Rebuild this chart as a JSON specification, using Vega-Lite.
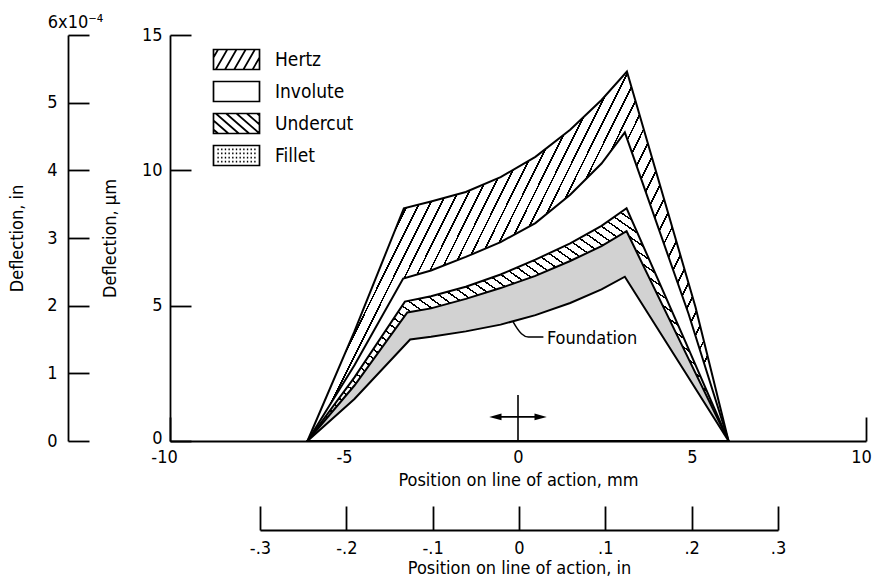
{
"$schema":"https://vega.github.io/schema/vega-lite/v6.json",
"width":696,"height":406,
"autosize":{"type":"none"},
"padding":{"left":170,"top":35,"right":9,"bottom":138},
"background":"white",
"config":{
 "view":{"stroke":null},
 "font":"Liberation Sans Narrow, DejaVu Sans Condensed, Arial Narrow, sans-serif",
 "axis":{"domainColor":"black","domainWidth":1.8,"tickColor":"black","tickWidth":1.8,"labelColor":"black","titleColor":"black","labelFontSize":18,"titleFontSize":18,"titleFontWeight":"normal","grid":false,"labelFlush":false,"labelOverlap":false,"labelFont":"Liberation Sans Narrow, DejaVu Sans Condensed, Arial Narrow, sans-serif","titleFont":"Liberation Sans Narrow, DejaVu Sans Condensed, Arial Narrow, sans-serif"},
 "legend":{"labelFont":"Liberation Sans Narrow, DejaVu Sans Condensed, Arial Narrow, sans-serif","labelFontSize":19,"labelColor":"black"}
},
"datasets":{
 "curves":[
  {"part":"Hertz","x":-6.05,"y":0},{"part":"Hertz","x":-4.7,"y":4.05},{"part":"Hertz","x":-3.28,"y":8.6},{"part":"Hertz","x":-2.5,"y":8.85},{"part":"Hertz","x":-1.5,"y":9.2},{"part":"Hertz","x":-0.5,"y":9.75},{"part":"Hertz","x":0.5,"y":10.5},{"part":"Hertz","x":1.5,"y":11.5},{"part":"Hertz","x":2.4,"y":12.6},{"part":"Hertz","x":3.13,"y":13.65},{"part":"Hertz","x":5.1,"y":4.95},{"part":"Hertz","x":6.05,"y":0},
  {"part":"Involute","x":-6.05,"y":0},{"part":"Involute","x":-4.7,"y":2.8},{"part":"Involute","x":-3.3,"y":6.0},{"part":"Involute","x":-2.5,"y":6.3},{"part":"Involute","x":-1.5,"y":6.8},{"part":"Involute","x":-0.5,"y":7.35},{"part":"Involute","x":0.5,"y":8.05},{"part":"Involute","x":1.5,"y":9.1},{"part":"Involute","x":2.4,"y":10.25},{"part":"Involute","x":3.07,"y":11.4},{"part":"Involute","x":4.9,"y":4.7},{"part":"Involute","x":6.05,"y":0},
  {"part":"Undercut","x":-6.05,"y":0},{"part":"Undercut","x":-4.7,"y":2.35},{"part":"Undercut","x":-3.25,"y":5.15},{"part":"Undercut","x":-2.5,"y":5.35},{"part":"Undercut","x":-1.5,"y":5.7},{"part":"Undercut","x":-0.5,"y":6.15},{"part":"Undercut","x":0.5,"y":6.7},{"part":"Undercut","x":1.5,"y":7.3},{"part":"Undercut","x":2.4,"y":7.95},{"part":"Undercut","x":3.12,"y":8.6},{"part":"Undercut","x":4.8,"y":3.7},{"part":"Undercut","x":6.05,"y":0},
  {"part":"Fillet","x":-6.05,"y":0},{"part":"Fillet","x":-4.7,"y":2.05},{"part":"Fillet","x":-3.18,"y":4.75},{"part":"Fillet","x":-2.5,"y":4.9},{"part":"Fillet","x":-1.5,"y":5.25},{"part":"Fillet","x":-0.5,"y":5.65},{"part":"Fillet","x":0.5,"y":6.1},{"part":"Fillet","x":1.5,"y":6.65},{"part":"Fillet","x":2.4,"y":7.2},{"part":"Fillet","x":3.12,"y":7.75},{"part":"Fillet","x":4.8,"y":3.3},{"part":"Fillet","x":6.05,"y":0},
  {"part":"Foundation","x":-6.05,"y":0},{"part":"Foundation","x":-4.7,"y":1.55},{"part":"Foundation","x":-3.1,"y":3.75},{"part":"Foundation","x":-2.5,"y":3.85},{"part":"Foundation","x":-1.5,"y":4.05},{"part":"Foundation","x":-0.5,"y":4.3},{"part":"Foundation","x":0.5,"y":4.65},{"part":"Foundation","x":1.5,"y":5.1},{"part":"Foundation","x":2.4,"y":5.6},{"part":"Foundation","x":3.07,"y":6.07},{"part":"Foundation","x":4.8,"y":2.55},{"part":"Foundation","x":6.05,"y":0}
 ],
 "legendItems":[{"item":"Hertz"},{"item":"Involute"},{"item":"Undercut"},{"item":"Fillet"}],
 "leader":[{"x":-0.14,"y":4.4},{"x":-0.02,"y":4.15},{"x":0.1,"y":3.96},{"x":0.3,"y":3.84},{"x":0.73,"y":3.84}],
 "labels":[{"x":0.83,"y":3.78,"text":"Foundation"}],
 "arrowLines":[{"x":0,"x2":0,"y":0,"y2":1.7},{"x":-0.72,"x2":0.72,"y":0.89,"y2":0.89}],
 "arrowLeft":[{"x":-0.65,"y":0.89}],
 "arrowRight":[{"x":0.65,"y":0.89}],
 "inchTicks":[{"xin":-0.3,"yin":0},{"xin":0.3,"yin":6}]
},
"resolve":{"scale":{"x":"independent","y":"independent"}},
"layer":[
 {
  "encoding":{
   "x":{"field":"x","type":"quantitative","scale":{"domain":[-10,10],"nice":false,"zero":false},
        "axis":{"values":[-10,-5,0,5,10],"tickSize":-24,"labelPadding":31,"title":"Position on line of action, mm","titlePadding":5,
                "labelOffset":{"condition":[{"test":"datum.value == 10","value":-5},{"test":"datum.value == -10","value":-6}],"value":0},
                "labelExpr":"datum.value < 0 ? '-' + abs(datum.value) : '' + datum.value"}},
   "y":{"field":"y","type":"quantitative","scale":{"domain":[0,15],"nice":false},
        "axis":{"values":[0,5,10,15],"tickSize":-21,"labelPadding":29,"title":"Deflection, µm","titlePadding":22,
                "labelOffset":{"condition":{"test":"datum.value == 0","value":-3},"value":0}}}
  },
  "layer":[
   {"data":{"name":"legendItems"},
    "mark":{"type":"point","filled":false,"color":"black","strokeWidth":1.7,"opacity":1,"size":529},
    "encoding":{"x":{"datum":0,"type":"quantitative"},"y":{"datum":1,"type":"quantitative"},
     "shape":{"field":"item","type":"nominal",
      "scale":{"domain":["Hertz","Involute","Undercut","Fillet"],
       "range":[
        "M-2,-0.87H2V0.87H-2Z M-2,-0.174L-1.6,-0.87 M-1.8,0.87L-0.8,-0.87 M-1,0.87L0,-0.87 M-0.2,0.87L0.8,-0.87 M0.6,0.87L1.6,-0.87 M1.4,0.87L2,-0.174",
        "M-2,-0.87H2V0.87H-2Z",
        "M-2,-0.87H2V0.87H-2Z M-2,0.522L-1.6,0.87 M-2,-0.26L-0.7,0.87 M-1.8,-0.87L0.2,0.87 M-0.9,-0.87L1.1,0.87 M0,-0.87L2,0.87 M0.9,-0.87L2,0.087 M1.8,-0.87L2,-0.696",
        "M-2,-0.87H2V0.87H-2Z M-1.66,-0.54h0.12M-1.34,-0.54h0.12M-1.02,-0.54h0.12M-0.7,-0.54h0.12M-0.38,-0.54h0.12M-0.06,-0.54h0.12M0.26,-0.54h0.12M0.58,-0.54h0.12M0.9,-0.54h0.12M1.22,-0.54h0.12M1.54,-0.54h0.12 M-1.66,-0.18h0.12M-1.34,-0.18h0.12M-1.02,-0.18h0.12M-0.7,-0.18h0.12M-0.38,-0.18h0.12M-0.06,-0.18h0.12M0.26,-0.18h0.12M0.58,-0.18h0.12M0.9,-0.18h0.12M1.22,-0.18h0.12M1.54,-0.18h0.12 M-1.66,0.18h0.12M-1.34,0.18h0.12M-1.02,0.18h0.12M-0.7,0.18h0.12M-0.38,0.18h0.12M-0.06,0.18h0.12M0.26,0.18h0.12M0.58,0.18h0.12M0.9,0.18h0.12M1.22,0.18h0.12M1.54,0.18h0.12 M-1.66,0.54h0.12M-1.34,0.54h0.12M-1.02,0.54h0.12M-0.7,0.54h0.12M-0.38,0.54h0.12M-0.06,0.54h0.12M0.26,0.54h0.12M0.58,0.54h0.12M0.9,0.54h0.12M1.22,0.54h0.12M1.54,0.54h0.12"
       ]},
      "legend":{"title":null,"orient":"none","legendX":54,"legendY":12,"symbolSize":529,"symbolStrokeWidth":1.7,"symbolStrokeColor":"black","labelOffset":26,"rowPadding":5,"padding":0,"labelFontSize":19}}}},
   {"data":{"name":"curves"},"transform":[{"filter":"datum.part === 'Hertz'"}],
    "mark":{"type":"area","stroke":"black","strokeWidth":2,"opacity":1,
     "fill":{"gradient":"linear","x1":0,"y1":0,"x2":1.1,"y2":0.48,"stops":[
      {"offset":0,"color":"#fff"},{"offset":0.26,"color":"#fff"},
      {"offset":0.26,"color":"#000"},{"offset":0.2635,"color":"#000"},{"offset":0.2635,"color":"#fff"},{"offset":0.28,"color":"#fff"},
      {"offset":0.28,"color":"#000"},{"offset":0.2835,"color":"#000"},{"offset":0.2835,"color":"#fff"},{"offset":0.30,"color":"#fff"},
      {"offset":0.30,"color":"#000"},{"offset":0.3035,"color":"#000"},{"offset":0.3035,"color":"#fff"},{"offset":0.32,"color":"#fff"},
      {"offset":0.32,"color":"#000"},{"offset":0.3235,"color":"#000"},{"offset":0.3235,"color":"#fff"},{"offset":0.34,"color":"#fff"},
      {"offset":0.34,"color":"#000"},{"offset":0.3435,"color":"#000"},{"offset":0.3435,"color":"#fff"},{"offset":0.36,"color":"#fff"},
      {"offset":0.36,"color":"#000"},{"offset":0.3635,"color":"#000"},{"offset":0.3635,"color":"#fff"},{"offset":0.38,"color":"#fff"},
      {"offset":0.38,"color":"#000"},{"offset":0.3835,"color":"#000"},{"offset":0.3835,"color":"#fff"},{"offset":0.40,"color":"#fff"},
      {"offset":0.40,"color":"#000"},{"offset":0.4035,"color":"#000"},{"offset":0.4035,"color":"#fff"},{"offset":0.42,"color":"#fff"},
      {"offset":0.42,"color":"#000"},{"offset":0.4235,"color":"#000"},{"offset":0.4235,"color":"#fff"},{"offset":0.44,"color":"#fff"},
      {"offset":0.44,"color":"#000"},{"offset":0.4435,"color":"#000"},{"offset":0.4435,"color":"#fff"},{"offset":0.46,"color":"#fff"},
      {"offset":0.46,"color":"#000"},{"offset":0.4635,"color":"#000"},{"offset":0.4635,"color":"#fff"},{"offset":0.48,"color":"#fff"},
      {"offset":0.48,"color":"#000"},{"offset":0.4835,"color":"#000"},{"offset":0.4835,"color":"#fff"},{"offset":0.50,"color":"#fff"},
      {"offset":0.50,"color":"#000"},{"offset":0.5035,"color":"#000"},{"offset":0.5035,"color":"#fff"},{"offset":0.52,"color":"#fff"},
      {"offset":0.52,"color":"#000"},{"offset":0.5235,"color":"#000"},{"offset":0.5235,"color":"#fff"},{"offset":0.54,"color":"#fff"},
      {"offset":0.54,"color":"#000"},{"offset":0.5435,"color":"#000"},{"offset":0.5435,"color":"#fff"},{"offset":0.56,"color":"#fff"},
      {"offset":0.56,"color":"#000"},{"offset":0.5635,"color":"#000"},{"offset":0.5635,"color":"#fff"},{"offset":0.58,"color":"#fff"},
      {"offset":0.58,"color":"#000"},{"offset":0.5835,"color":"#000"},{"offset":0.5835,"color":"#fff"},{"offset":0.60,"color":"#fff"},
      {"offset":0.60,"color":"#000"},{"offset":0.6035,"color":"#000"},{"offset":0.6035,"color":"#fff"},{"offset":0.62,"color":"#fff"},
      {"offset":0.62,"color":"#000"},{"offset":0.6235,"color":"#000"},{"offset":0.6235,"color":"#fff"},{"offset":0.64,"color":"#fff"},
      {"offset":0.64,"color":"#000"},{"offset":0.6435,"color":"#000"},{"offset":0.6435,"color":"#fff"},{"offset":0.66,"color":"#fff"},
      {"offset":0.66,"color":"#000"},{"offset":0.6635,"color":"#000"},{"offset":0.6635,"color":"#fff"},{"offset":0.68,"color":"#fff"},
      {"offset":0.68,"color":"#000"},{"offset":0.6835,"color":"#000"},{"offset":0.6835,"color":"#fff"},{"offset":0.70,"color":"#fff"},
      {"offset":0.70,"color":"#000"},{"offset":0.7035,"color":"#000"},{"offset":0.7035,"color":"#fff"},{"offset":0.72,"color":"#fff"},
      {"offset":0.72,"color":"#000"},{"offset":0.7235,"color":"#000"},{"offset":0.7235,"color":"#fff"},{"offset":0.74,"color":"#fff"},
      {"offset":0.74,"color":"#000"},{"offset":0.7435,"color":"#000"},{"offset":0.7435,"color":"#fff"},{"offset":0.76,"color":"#fff"},
      {"offset":0.76,"color":"#000"},{"offset":0.7635,"color":"#000"},{"offset":0.7635,"color":"#fff"},{"offset":0.78,"color":"#fff"},
      {"offset":0.78,"color":"#000"},{"offset":0.7835,"color":"#000"},{"offset":0.7835,"color":"#fff"},{"offset":0.80,"color":"#fff"},
      {"offset":0.80,"color":"#000"},{"offset":0.8035,"color":"#000"},{"offset":0.8035,"color":"#fff"},{"offset":0.82,"color":"#fff"},
      {"offset":0.82,"color":"#000"},{"offset":0.8235,"color":"#000"},{"offset":0.8235,"color":"#fff"},{"offset":0.84,"color":"#fff"},
      {"offset":0.84,"color":"#000"},{"offset":0.8435,"color":"#000"},{"offset":0.8435,"color":"#fff"},{"offset":0.86,"color":"#fff"},
      {"offset":0.86,"color":"#000"},{"offset":0.8635,"color":"#000"},{"offset":0.8635,"color":"#fff"},{"offset":0.88,"color":"#fff"},
      {"offset":0.88,"color":"#000"},{"offset":0.8835,"color":"#000"},{"offset":0.8835,"color":"#fff"},{"offset":0.90,"color":"#fff"},
      {"offset":0.90,"color":"#000"},{"offset":0.9035,"color":"#000"},{"offset":0.9035,"color":"#fff"},{"offset":0.92,"color":"#fff"},
      {"offset":0.92,"color":"#000"},{"offset":0.9235,"color":"#000"},{"offset":0.9235,"color":"#fff"},{"offset":0.94,"color":"#fff"},
      {"offset":0.94,"color":"#000"},{"offset":0.9435,"color":"#000"},{"offset":0.9435,"color":"#fff"},{"offset":0.96,"color":"#fff"},
      {"offset":0.96,"color":"#000"},{"offset":0.9635,"color":"#000"},{"offset":0.9635,"color":"#fff"},{"offset":0.98,"color":"#fff"},
      {"offset":0.98,"color":"#000"},{"offset":0.9835,"color":"#000"},{"offset":0.9835,"color":"#fff"},{"offset":1,"color":"#fff"}
     ]}}},
   {"data":{"name":"curves"},"transform":[{"filter":"datum.part === 'Involute'"}],
    "mark":{"type":"area","fill":"white","stroke":"black","strokeWidth":2,"opacity":1}},
   {"data":{"name":"curves"},"transform":[{"filter":"datum.part === 'Undercut'"}],
    "mark":{"type":"area","stroke":"black","strokeWidth":2,"opacity":1,
     "fill":{"gradient":"linear","x1":0,"y1":1,"x2":0.952,"y2":0.245,"stops":[
      {"offset":0,"color":"#000"},{"offset":0.004,"color":"#000"},{"offset":0.004,"color":"#fff"},{"offset":0.02,"color":"#fff"},
      {"offset":0.02,"color":"#000"},{"offset":0.024,"color":"#000"},{"offset":0.024,"color":"#fff"},{"offset":0.04,"color":"#fff"},
      {"offset":0.04,"color":"#000"},{"offset":0.044,"color":"#000"},{"offset":0.044,"color":"#fff"},{"offset":0.06,"color":"#fff"},
      {"offset":0.06,"color":"#000"},{"offset":0.064,"color":"#000"},{"offset":0.064,"color":"#fff"},{"offset":0.08,"color":"#fff"},
      {"offset":0.08,"color":"#000"},{"offset":0.084,"color":"#000"},{"offset":0.084,"color":"#fff"},{"offset":0.10,"color":"#fff"},
      {"offset":0.10,"color":"#000"},{"offset":0.104,"color":"#000"},{"offset":0.104,"color":"#fff"},{"offset":0.12,"color":"#fff"},
      {"offset":0.12,"color":"#000"},{"offset":0.124,"color":"#000"},{"offset":0.124,"color":"#fff"},{"offset":0.14,"color":"#fff"},
      {"offset":0.14,"color":"#000"},{"offset":0.144,"color":"#000"},{"offset":0.144,"color":"#fff"},{"offset":0.16,"color":"#fff"},
      {"offset":0.16,"color":"#000"},{"offset":0.164,"color":"#000"},{"offset":0.164,"color":"#fff"},{"offset":0.18,"color":"#fff"},
      {"offset":0.18,"color":"#000"},{"offset":0.184,"color":"#000"},{"offset":0.184,"color":"#fff"},{"offset":0.20,"color":"#fff"},
      {"offset":0.20,"color":"#000"},{"offset":0.204,"color":"#000"},{"offset":0.204,"color":"#fff"},{"offset":0.22,"color":"#fff"},
      {"offset":0.22,"color":"#000"},{"offset":0.224,"color":"#000"},{"offset":0.224,"color":"#fff"},{"offset":0.24,"color":"#fff"},
      {"offset":0.24,"color":"#000"},{"offset":0.244,"color":"#000"},{"offset":0.244,"color":"#fff"},{"offset":0.26,"color":"#fff"},
      {"offset":0.26,"color":"#000"},{"offset":0.264,"color":"#000"},{"offset":0.264,"color":"#fff"},{"offset":0.28,"color":"#fff"},
      {"offset":0.28,"color":"#000"},{"offset":0.284,"color":"#000"},{"offset":0.284,"color":"#fff"},{"offset":0.30,"color":"#fff"},
      {"offset":0.30,"color":"#000"},{"offset":0.304,"color":"#000"},{"offset":0.304,"color":"#fff"},{"offset":0.32,"color":"#fff"},
      {"offset":0.32,"color":"#000"},{"offset":0.324,"color":"#000"},{"offset":0.324,"color":"#fff"},{"offset":0.34,"color":"#fff"},
      {"offset":0.34,"color":"#000"},{"offset":0.344,"color":"#000"},{"offset":0.344,"color":"#fff"},{"offset":0.36,"color":"#fff"},
      {"offset":0.36,"color":"#000"},{"offset":0.364,"color":"#000"},{"offset":0.364,"color":"#fff"},{"offset":0.38,"color":"#fff"},
      {"offset":0.38,"color":"#000"},{"offset":0.384,"color":"#000"},{"offset":0.384,"color":"#fff"},{"offset":0.40,"color":"#fff"},
      {"offset":0.40,"color":"#000"},{"offset":0.404,"color":"#000"},{"offset":0.404,"color":"#fff"},{"offset":0.42,"color":"#fff"},
      {"offset":0.42,"color":"#000"},{"offset":0.424,"color":"#000"},{"offset":0.424,"color":"#fff"},{"offset":0.44,"color":"#fff"},
      {"offset":0.44,"color":"#000"},{"offset":0.444,"color":"#000"},{"offset":0.444,"color":"#fff"},{"offset":0.46,"color":"#fff"},
      {"offset":0.46,"color":"#000"},{"offset":0.464,"color":"#000"},{"offset":0.464,"color":"#fff"},{"offset":0.48,"color":"#fff"},
      {"offset":0.48,"color":"#000"},{"offset":0.484,"color":"#000"},{"offset":0.484,"color":"#fff"},{"offset":0.50,"color":"#fff"},
      {"offset":0.50,"color":"#000"},{"offset":0.504,"color":"#000"},{"offset":0.504,"color":"#fff"},{"offset":0.52,"color":"#fff"},
      {"offset":0.52,"color":"#000"},{"offset":0.524,"color":"#000"},{"offset":0.524,"color":"#fff"},{"offset":0.54,"color":"#fff"},
      {"offset":0.54,"color":"#000"},{"offset":0.544,"color":"#000"},{"offset":0.544,"color":"#fff"},{"offset":0.56,"color":"#fff"},
      {"offset":0.56,"color":"#000"},{"offset":0.564,"color":"#000"},{"offset":0.564,"color":"#fff"},{"offset":0.58,"color":"#fff"},
      {"offset":0.58,"color":"#000"},{"offset":0.584,"color":"#000"},{"offset":0.584,"color":"#fff"},{"offset":0.60,"color":"#fff"},
      {"offset":0.60,"color":"#000"},{"offset":0.604,"color":"#000"},{"offset":0.604,"color":"#fff"},{"offset":0.62,"color":"#fff"},
      {"offset":0.62,"color":"#000"},{"offset":0.624,"color":"#000"},{"offset":0.624,"color":"#fff"},{"offset":0.64,"color":"#fff"},
      {"offset":0.64,"color":"#000"},{"offset":0.644,"color":"#000"},{"offset":0.644,"color":"#fff"},{"offset":0.66,"color":"#fff"},
      {"offset":0.66,"color":"#000"},{"offset":0.664,"color":"#000"},{"offset":0.664,"color":"#fff"},{"offset":0.68,"color":"#fff"},
      {"offset":0.68,"color":"#000"},{"offset":0.684,"color":"#000"},{"offset":0.684,"color":"#fff"},{"offset":0.70,"color":"#fff"},
      {"offset":0.70,"color":"#000"},{"offset":0.704,"color":"#000"},{"offset":0.704,"color":"#fff"},{"offset":0.72,"color":"#fff"},
      {"offset":0.72,"color":"#000"},{"offset":0.724,"color":"#000"},{"offset":0.724,"color":"#fff"},{"offset":0.74,"color":"#fff"},
      {"offset":0.74,"color":"#000"},{"offset":0.744,"color":"#000"},{"offset":0.744,"color":"#fff"},{"offset":0.76,"color":"#fff"},
      {"offset":0.76,"color":"#000"},{"offset":0.764,"color":"#000"},{"offset":0.764,"color":"#fff"},{"offset":0.78,"color":"#fff"},
      {"offset":0.78,"color":"#000"},{"offset":0.784,"color":"#000"},{"offset":0.784,"color":"#fff"},{"offset":0.80,"color":"#fff"},
      {"offset":0.80,"color":"#000"},{"offset":0.804,"color":"#000"},{"offset":0.804,"color":"#fff"},{"offset":0.82,"color":"#fff"},
      {"offset":0.82,"color":"#000"},{"offset":0.824,"color":"#000"},{"offset":0.824,"color":"#fff"},{"offset":0.84,"color":"#fff"},
      {"offset":0.84,"color":"#000"},{"offset":0.844,"color":"#000"},{"offset":0.844,"color":"#fff"},{"offset":0.86,"color":"#fff"},
      {"offset":0.86,"color":"#000"},{"offset":0.864,"color":"#000"},{"offset":0.864,"color":"#fff"},{"offset":0.88,"color":"#fff"},
      {"offset":0.88,"color":"#000"},{"offset":0.884,"color":"#000"},{"offset":0.884,"color":"#fff"},{"offset":0.90,"color":"#fff"},
      {"offset":0.90,"color":"#000"},{"offset":0.904,"color":"#000"},{"offset":0.904,"color":"#fff"},{"offset":0.92,"color":"#fff"},
      {"offset":0.92,"color":"#000"},{"offset":0.924,"color":"#000"},{"offset":0.924,"color":"#fff"},{"offset":0.94,"color":"#fff"},
      {"offset":0.94,"color":"#000"},{"offset":0.944,"color":"#000"},{"offset":0.944,"color":"#fff"},{"offset":0.96,"color":"#fff"},
      {"offset":0.96,"color":"#000"},{"offset":0.964,"color":"#000"},{"offset":0.964,"color":"#fff"},{"offset":0.98,"color":"#fff"},
      {"offset":0.98,"color":"#000"},{"offset":0.984,"color":"#000"},{"offset":0.984,"color":"#fff"},{"offset":1,"color":"#fff"}
     ]}}},
   {"data":{"name":"curves"},"transform":[{"filter":"datum.part === 'Fillet'"}],
    "mark":{"type":"area","fill":"#d2d2d2","stroke":"black","strokeWidth":2,"opacity":1}},
   {"data":{"name":"curves"},"transform":[{"filter":"datum.part === 'Foundation'"}],
    "mark":{"type":"area","fill":"white","stroke":"black","strokeWidth":2,"opacity":1}},
   {"data":{"name":"leader"},"mark":{"type":"line","color":"black","strokeWidth":1.5,"interpolate":"monotone"}},
   {"data":{"name":"labels"},"mark":{"type":"text","align":"left","baseline":"middle","fontSize":18,"color":"black","font":"Liberation Sans Narrow, DejaVu Sans Condensed, Arial Narrow, sans-serif"},"encoding":{"text":{"field":"text"}}},
   {"data":{"name":"arrowLines"},"mark":{"type":"rule","color":"black","strokeWidth":1.6},"encoding":{"x2":{"field":"x2"},"y2":{"field":"y2"}}},
   {"data":{"name":"arrowLeft"},"mark":{"type":"point","shape":"M-1,0L1,-0.55L1,0.55Z","filled":true,"color":"black","size":150,"opacity":1}},
   {"data":{"name":"arrowRight"},"mark":{"type":"point","shape":"M1,0L-1,-0.55L-1,0.55Z","filled":true,"color":"black","size":150,"opacity":1}}
  ]
 },
 {"data":{"name":"inchTicks"},"mark":{"type":"point","opacity":0},
  "encoding":{
   "x":{"field":"xin","type":"quantitative","scale":{"domain":[-0.3,0.3],"range":[90,608],"nice":false,"zero":false},
        "axis":{"orient":"bottom","offset":89,"values":[-0.3,-0.2,-0.1,0,0.1,0.2,0.3],"tickSize":-24,"labelPadding":33,"title":"Position on line of action, in","titlePadding":2,
                "labelExpr":"datum.value == 0 ? '0' : (datum.value < 0 ? '-' : '') + replace(format(abs(datum.value), '.1f'), '0.', '.')"}},
   "y":{"field":"yin","type":"quantitative","scale":{"domain":[0,6],"nice":false},
        "axis":{"orient":"left","offset":102,"values":[0,1,2,3,4,5,6],"tickSize":-21,
                "labelPadding":{"condition":{"test":"datum.value == 6","value":14},"value":32},
                "labelAlign":{"condition":{"test":"datum.value == 6","value":"center"},"value":"right"},
                "labelOffset":{"condition":{"test":"datum.value == 6","value":-13},"value":0},
                "labelExpr":"datum.value == 6 ? '6x10⁻⁴' : datum.label","title":"Deflection, in","titlePadding":20}}
  }}
]
}
